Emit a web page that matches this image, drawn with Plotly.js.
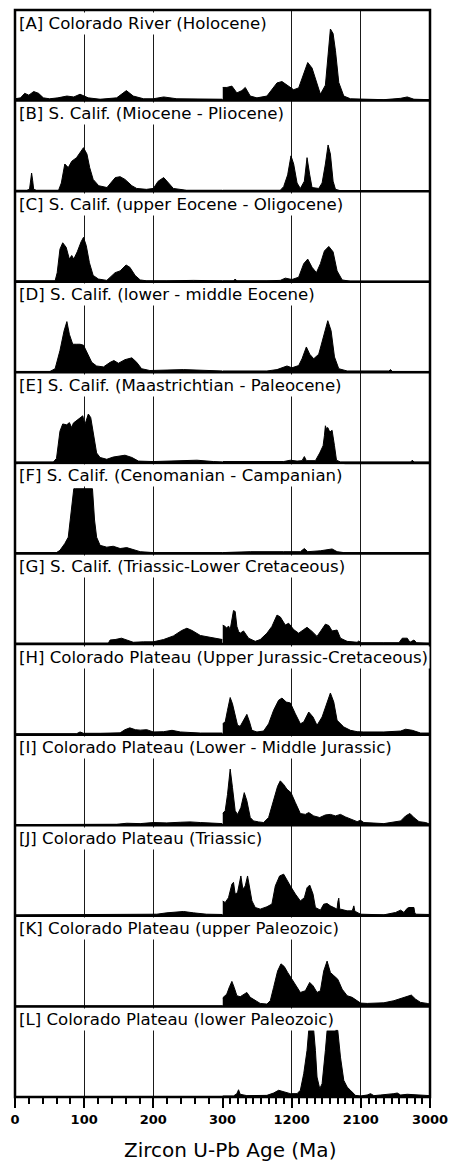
<!DOCTYPE html>
<html><head><meta charset="utf-8">
<script src="https://cdn.plot.ly/plotly-3.0.1.min.js"></script>
<style>html,body{margin:0;padding:0;background:#fff}#chart{width:451px;height:1166px}</style>
</head><body><div id="chart"></div>
<script>
// Panel titles
const TITLES = [
  "[A] Colorado River (Holocene)",
  "[B] S. Calif. (Miocene - Pliocene)",
  "[C] S. Calif. (upper Eocene - Oligocene)",
  "[D] S. Calif. (lower - middle Eocene)",
  "[E] S. Calif. (Maastrichtian - Paleocene)",
  "[F] S. Calif. (Cenomanian - Campanian)",
  "[G] S. Calif. (Triassic-Lower Cretaceous)",
  "[H] Colorado Plateau (Upper Jurassic-Cretaceous)",
  "[I] Colorado Plateau (Lower - Middle Jurassic)",
  "[J] Colorado Plateau (Triassic)",
  "[K] Colorado Plateau (upper Paleozoic)",
  "[L] Colorado Plateau (lower Paleozoic)"
];
// Tick labels
const TICKS_YOUNG = [0, 100, 200, 300];
const TICKS_OLD = [1200, 2100, 3000];

// Relative probability (% of panel height) vs age (Ma): [age, value]
// 0-300 Ma segment and 300-3000 Ma segment for each panel
const A_young = [[0,2],[8,3],[14,8],[20,6],[27,10],[34,8],[41,3],[50,2],[62,3],[75,5],[85,4],[94,7],[106,3],[123,1.5],[147,3],[155,7],[161,11],[171,5],[186,2],[200,2],[215,4],[234,2],[268,1.5],[300,1.5]];
const A_old = [[300,14.5],[357,14.5],[422,16],[487,8.5],[552,11],[596,14.5],[661,5],[748,3],[878,5],[1009,19.5],[1074,21],[1139,17],[1226,12],[1291,14],[1357,29],[1409,42],[1465,36],[1530,17],[1574,7],[1639,17],[1683,62],[1704,79],[1739,74],[1770,55],[1813,20],[1878,5],[1965,2],[2183,1.5],[2400,1],[2618,2.5],[2704,4],[2791,1.5],[3000,1]];

const B_young = [[0,1],[17,1],[21,2],[23,12],[24,20],[25.5,12],[27,2],[31,1],[63,1],[67,9],[72,30],[77,26],[82,33],[89,37],[94,43],[99,48],[104,41],[108,26],[113,13],[121,6],[133,4],[145,15],[152,16],[159,13],[169,6],[176,3],[190,2],[200,3],[207,11],[215,15],[222,9],[229,3],[248,1],[300,1]];
const B_old = [[300,1],[1052,1],[1096,5],[1148,18],[1191,39],[1226,30],[1270,9],[1313,3],[1365,11],[1400,37],[1435,18],[1465,4],[1552,3],[1596,9],[1639,30],[1674,51],[1704,41],[1739,11],[1770,2],[1835,0.5],[3000,0.5]];

const C_young = [[0,1],[58,1],[61,10],[65,36],[69,43],[74,38],[78.6,25],[82,29],[85,25],[90,33],[95.5,44],[99,49],[103,40],[107.6,21],[113,7],[120.6,3],[132.7,1.5],[140,7],[144.7,10],[152,12],[160.6,18.5],[166,16],[173.7,7],[181,2],[190.5,1],[219.5,1],[258,1.5],[300,1]];
const C_old = [[300,1],[443,1],[465,3],[487,1],[878,1],[1052,1.5],[1117,4],[1204,2.5],[1291,5],[1357,20],[1409,25],[1465,16],[1522,10],[1574,20],[1626,34],[1683,39],[1739,33],[1791,12],[1857,2],[1965,0.5],[3000,0.5]];

const D_young = [[0,1],[50.6,1],[58,4],[65,24],[71,46],[75,56],[78.6,42],[83.5,31],[89,31],[94,31],[99,30],[104.7,20],[111,11],[118,7],[128,6],[137.5,11],[143,13],[149.5,10],[159,14],[169,16],[176,11],[183,4],[195,2],[243.6,3],[268,2],[300,1.5]];
const D_old = [[300,1.5],[878,1.5],[1009,3],[1139,7],[1204,5],[1291,7.5],[1335,15],[1391,28],[1435,20],[1487,15],[1552,20],[1617,39],[1670,57],[1713,46],[1757,17],[1813,4],[1922,1.5],[2465,1.5],[2487,3],[2509,1],[3000,1]];

const E_young = [[0,1],[55.5,1],[60,5],[65,35],[69,43],[74.8,42],[78.6,44.5],[82,39],[84.4,44],[89,47],[94,50],[98,52],[101,42],[106,54],[109.5,50],[113,35],[118,11],[123,6],[132.7,4],[142,6.5],[159,8.5],[169,6],[178.5,2],[200,1.5],[229,2.5],[263,3],[287,1.5],[300,1]];
const E_old = [[300,1.5],[1096,1.5],[1183,3],[1270,2],[1335,2.5],[1365,7],[1391,2.5],[1509,2.5],[1565,11],[1609,19],[1626,30],[1639,41],[1650,38],[1670,39],[1696,34],[1726,36],[1757,19],[1783,3],[1835,1],[2748,1],[2770,3],[2791,1],[3000,1]];

const F_young = [[0,1],[60,1],[65,3.5],[72,11],[77,18],[82,51],[85,71.5],[88,71.5],[112,71.5],[115,37],[118,18],[123,9],[132.7,7],[142,8],[152,5.5],[161.6,6.5],[171,4.5],[181,2],[200,1],[300,1]];
const F_old = [[300,1],[661,2],[1096,2],[1313,2],[1365,5.5],[1409,2],[1574,3],[1661,4.5],[1726,5],[1791,2],[1878,1],[3000,1]];

const G_young = [[0,1],[135,1],[137.5,4.5],[144.7,5],[154,6.5],[164,3.5],[171,2],[186,2.5],[200,2.5],[214.7,5],[229,9],[241,15],[248.5,17.5],[256,15],[268,9.5],[282,7.5],[296.7,5],[300,5]];
const G_old = [[300,21],[335,19.5],[356,17.5],[378,20],[400,16],[422,25],[443,37],[465,36],[487,19.5],[509,14],[530,12],[574,14.5],[639,6.5],[726,3],[791,5],[878,12],[943,19.5],[1009,32],[1052,30],[1117,21],[1161,23],[1226,16],[1291,12],[1357,16],[1400,18.5],[1465,14],[1530,8.5],[1583,15],[1639,22],[1683,20.5],[1726,14.5],[1791,15.5],[1835,6.5],[1922,3],[2052,2],[2074,3.5],[2096,1.5],[2400,1.5],[2596,1.5],[2639,6.5],[2704,6.5],[2739,2],[2791,4.5],[2826,1.5],[3000,1]];

const H_young = [[0,1],[89,1],[94,3],[99,1.5],[123,1.5],[152,2],[159,5.5],[166,7.5],[174,5.5],[181,5],[190.5,5.5],[200,3],[215,3.3],[227,4.8],[239,3],[268,1.8],[300,1.8]];
const H_old = [[300,12],[335,14],[365,27],[400,41],[430,34],[465,19.5],[496,10.3],[530,9.2],[574,15.8],[617,22.4],[652,14],[683,4.8],[748,3],[835,4],[900,12],[965,27],[1030,38],[1074,40.4],[1130,36],[1183,35],[1248,23],[1313,12],[1357,14],[1422,25],[1478,19.5],[1530,10.3],[1596,19.5],[1652,34],[1704,46],[1748,36],[1791,15.8],[1878,8.5],[1965,4.8],[2052,3.3],[2139,3],[2400,3],[2618,4],[2683,6],[2770,4.8],[2878,1.8],[3000,1.8]];

const I_young = [[0,0.7],[123,0.7],[147,1.1],[161.6,2.2],[181,1.8],[200,3],[219.5,2.6],[239,3.3],[253,3.7],[268,3],[287,2.2],[300,1.8]];
const I_old = [[300,13],[335,16],[365,34],[400,62],[430,41.5],[465,16],[496,12],[539,19.5],[583,36],[617,27],[661,8.5],[704,4.8],[770,3.7],[835,3],[900,8.5],[965,27],[1017,43],[1052,49],[1096,45],[1139,39.7],[1191,36],[1248,25],[1313,12.9],[1378,12],[1422,14],[1487,10.3],[1565,8.5],[1639,11.4],[1704,12],[1770,10.3],[1835,12],[1900,9.2],[1965,6.6],[2052,4],[2096,5.5],[2139,3],[2400,1.8],[2618,4.8],[2683,10.3],[2739,13],[2791,8.5],[2857,4],[2944,3],[3000,1.1]];

const J_young = [[0,1],[195,1],[205,1.8],[219.5,3.3],[234,4.4],[243.6,4.8],[258,3.3],[277,1.8],[300,1.5]];
const J_old = [[300,16.5],[335,14.7],[378,20],[422,35],[443,37],[465,24],[496,25.7],[522,38.6],[539,44],[565,29.4],[596,33],[626,44],[652,29.4],[683,16.5],[726,9.2],[791,7.4],[878,10],[943,13],[987,33],[1043,44],[1096,46],[1130,40.4],[1183,33],[1248,24],[1313,16.5],[1365,20],[1400,31],[1435,34],[1478,24],[1509,9.2],[1574,6.3],[1617,12.9],[1661,13.6],[1704,11],[1748,9.2],[1791,7.4],[1800,15],[1813,19.5],[1825,8],[1835,7.4],[1922,5.5],[1987,5.5],[1998,8],[2009,11],[2020,6],[2030,4.8],[2096,1.8],[2183,1.8],[2400,1.1],[2552,3.7],[2618,6.3],[2661,3.7],[2700,8],[2726,9.2],[2791,9.2],[2800,4],[2813,1.8],[3000,1.5]];

const K_young = [[0,0.5],[300,0.5]];
const K_old = [[300,9.2],[356,13.6],[391,21.7],[422,27.6],[452,21],[487,11.8],[530,10.7],[574,13.6],[617,15.4],[661,10],[726,6.3],[791,3.3],[878,2.6],[922,6.3],[965,21],[1017,39],[1061,47],[1104,44],[1148,37.5],[1204,30],[1248,24.6],[1313,15.4],[1378,17.3],[1435,26.5],[1478,22.8],[1530,15.4],[1574,17.3],[1617,39],[1661,50],[1704,37.5],[1748,34],[1800,30],[1857,19],[1922,11.8],[1987,10],[2052,6.3],[2096,3.7],[2183,3.3],[2400,4],[2530,6.3],[2661,10],[2757,12.5],[2813,8],[2878,4.4],[2965,3.3],[3000,2.6]];

const L_young = [[0,0.5],[300,0.5]];
const L_old = [[300,1.1],[443,1.1],[487,3.7],[509,8],[530,3],[617,1.5],[878,1.8],[965,4.4],[1030,7.4],[1096,5.5],[1183,3.7],[1270,3.7],[1313,7.4],[1357,25.7],[1400,51.5],[1422,73.5],[1487,73.5],[1509,51.5],[1530,22],[1565,9.2],[1596,14.7],[1639,51.5],[1661,73.5],[1800,73.5],[1835,44],[1878,18.4],[1922,11],[1965,7.4],[2030,1.8],[2096,1.1],[2183,2.2],[2226,3.7],[2270,1.5],[2357,2.2],[2443,2.6],[2530,3.7],[2574,4.4],[2618,2.2],[2704,3],[2791,2.6],[2878,1.8],[3000,1.5]];

const YOUNG = [A_young,B_young,C_young,D_young,E_young,F_young,G_young,H_young,I_young,J_young,K_young,L_young];
const OLD = [A_old,B_old,C_old,D_old,E_old,F_old,G_old,H_old,I_old,J_old,K_old,L_old];

const N = TITLES.length;
const traces = [];
const layout = {
  width: 451, height: 1166,
  margin: {l: 15, r: 21, t: 10, b: 69},
  paper_bgcolor: '#fff', plot_bgcolor: '#fff',
  showlegend: false,
  font: {family: 'DejaVu Sans, Arial, sans-serif', color: '#000'},
  shapes: [], annotations: []
};
const xcommon = {
  showgrid: true, gridcolor: '#1a1a1a', gridwidth: 1,
  zeroline: false, showline: false,
  ticks: 'outside', ticklen: 10, tickwidth: 2, tickcolor: '#000',
  tickmode: 'array',
  tickfont: {family: 'DejaVu Sans, Arial, sans-serif', size: 13, color: '#000', weight: 'bold'},
  anchor: 'y' + N, fixedrange: true
};
layout.xaxis = Object.assign({}, xcommon, {
  domain: [0, 0.5], range: [0, 300], tickvals: TICKS_YOUNG, ticktext: TICKS_YOUNG.map(String),
  minor: {dtick: 20, tick0: 0, ticks: 'outside', ticklen: 6, tickwidth: 2, tickcolor: '#000', showgrid: false}
});
layout.xaxis2 = Object.assign({}, xcommon, {
  domain: [0.5, 1], range: [300, 3000], tickvals: TICKS_OLD, ticktext: TICKS_OLD.map(String),
  minor: {dtick: 100, tick0: 0, ticks: 'outside', ticklen: 6, tickwidth: 2, tickcolor: '#000', showgrid: false}
});

for (let k = 0; k < N; k++) {
  const yname = k === 0 ? 'yaxis' : 'yaxis' + (k + 1);
  const yref = k === 0 ? 'y' : 'y' + (k + 1);
  const top = 1 - k / N, bot = 1 - (k + 1) / N;
  layout[yname] = {domain: [bot, top], range: [0, 100], showgrid: false, zeroline: false,
    showticklabels: false, ticks: '', showline: false, anchor: 'x', fixedrange: true};
  [[YOUNG[k], 'x'], [OLD[k], 'x2']].forEach(([seg, xr]) => {
    traces.push({
      type: 'scatter', mode: 'lines', xaxis: xr, yaxis: yref,
      x: seg.map(p => p[0]), y: seg.map(p => p[1]),
      fill: 'tozeroy', fillcolor: '#000', line: {color: '#000', width: 1},
      hoverinfo: 'skip'
    });
  });
  layout.annotations.push({
    xref: 'paper', yref: 'paper', x: 0, y: top, xanchor: 'left', yanchor: 'top',
    xshift: 1.5, yshift: -1.5, showarrow: false, align: 'left',
    text: TITLES[k], bgcolor: '#fff', borderpad: 1,
    font: {family: 'DejaVu Sans, Arial, sans-serif', size: 16.6, color: '#000'}
  });
  if (k > 0) {
    layout.shapes.push({type: 'line', xref: 'paper', yref: 'paper', x0: 0, x1: 1, y0: top, y1: top,
      line: {color: '#000', width: 2.5}, layer: 'above'});
  }
}
layout.shapes.push({type: 'rect', xref: 'paper', yref: 'paper', x0: 0, x1: 1, y0: 0, y1: 1,
  line: {color: '#000', width: 2.5}, layer: 'above'});
layout.annotations.push({
  xref: 'paper', yref: 'paper', x: 0.519, y: -0.0488, xanchor: 'center', yanchor: 'middle',
  showarrow: false, text: 'Zircon U-Pb Age (Ma)',
  font: {family: 'DejaVu Sans, Arial, sans-serif', size: 20, color: '#000'}
});

Plotly.newPlot('chart', traces, layout, {staticPlot: true, displayModeBar: false});
</script>
</body></html>
